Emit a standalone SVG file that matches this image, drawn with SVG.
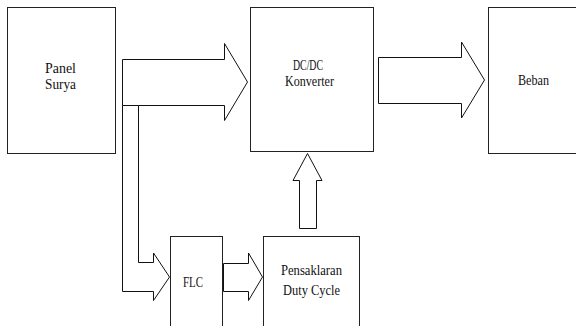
<svg xmlns="http://www.w3.org/2000/svg" width="576" height="326" viewBox="0 0 576 326">
<style>
.box{fill:#fff;stroke:#222;stroke-width:1}
.arr{fill:#fff;stroke:#111;stroke-width:1;stroke-linejoin:miter}
.t{font-family:"Liberation Serif","Times New Roman","DejaVu Serif",serif;font-size:15px;fill:#111;text-anchor:start}
</style>
<rect width="576" height="326" fill="#fff"/>
<g id="connectors">
<polygon class="arr" points="122.5,59.5 224.5,59.5 224.5,43.5 247.5,82 224.5,120.5 224.5,105.5 122.5,105.5"/>
<polygon class="arr" points="122.5,105.5 138.5,105.5 138.5,262.5 153.5,262.5 153.5,253 169.5,277 153.5,300.5 153.5,291.5 122.5,291.5"/>
<polygon class="arr" points="378.5,57.5 461.5,57.5 461.5,42 484.5,80 461.5,118 461.5,103.5 378.5,103.5"/>
<polygon class="arr" points="223.5,263.5 248.5,263.5 248.5,253 262.5,277 248.5,300.5 248.5,291.5 223.5,291.5"/>
<polygon class="arr" points="299.5,228.5 299.5,180.5 293,180.5 307.5,153.5 322,180.5 316.5,180.5 316.5,228.5"/>
</g>
<g id="panel-surya">
<rect class="box" x="7.5" y="7.5" width="108" height="146"/>
<text class="t" x="45" y="73" textLength="31" lengthAdjust="spacingAndGlyphs">Panel</text>
<text class="t" x="45" y="89" textLength="31" lengthAdjust="spacingAndGlyphs">Surya</text>
</g>
<g id="dcdc-konverter">
<rect class="box" x="250.5" y="7.5" width="123" height="144"/>
<text class="t" x="293" y="70" textLength="30" lengthAdjust="spacingAndGlyphs">DC/DC</text>
<text class="t" x="285" y="86" textLength="49" lengthAdjust="spacingAndGlyphs">Konverter</text>
</g>
<g id="beban">
<rect class="box" x="488.5" y="7.5" width="100" height="146"/>
<text class="t" x="518" y="85" textLength="31" lengthAdjust="spacingAndGlyphs">Beban</text>
</g>
<g id="flc">
<rect class="box" x="170.5" y="236.5" width="52" height="100"/>
<text class="t" x="183" y="287" textLength="20" lengthAdjust="spacingAndGlyphs">FLC</text>
</g>
<g id="pensaklaran">
<rect class="box" x="263.5" y="236.5" width="96" height="100"/>
<text class="t" x="281" y="275" textLength="61" lengthAdjust="spacingAndGlyphs">Pensaklaran</text>
<text class="t" x="283" y="295" textLength="57" lengthAdjust="spacingAndGlyphs">Duty Cycle</text>
</g>
</svg>
